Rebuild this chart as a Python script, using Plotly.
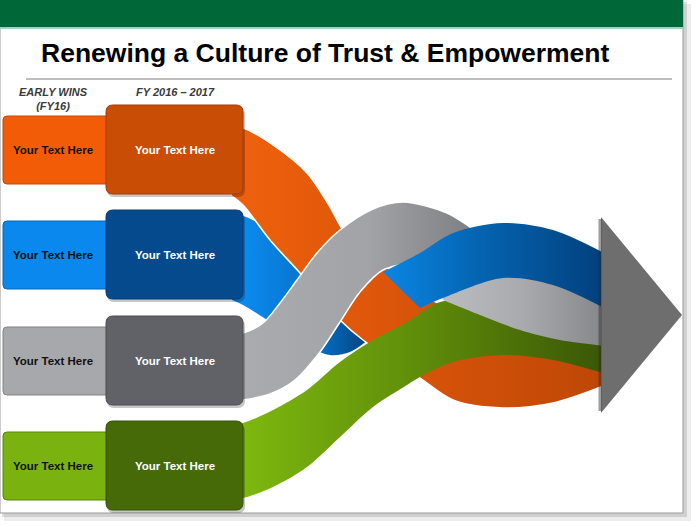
import plotly.graph_objects as go

W, H = 697, 526

title = "Renewing a Culture of Trust & Empowerment"
stage_labels = ["EARLY WINS<br>(FY16)", "FY 2016 – 2017"]
stage_x = [53, 175]
stage_y = [99, 92]

row_y = [150, 255, 361, 466]
early_text = ["Your Text Here"] * 4
fy_text = ["Your Text Here"] * 4
early_colors = ["#F35C06", "#0A88EE", "#A7A8AC", "#7AB30F"]
early_lines = ["#C04A05", "#0766B2", "#808185", "#5B8609"]
fy_colors = ["#CA4D05", "#064A8E", "#616267", "#476A09"]
fy_lines = ["#A33D03", "#043A70", "#4C4D51", "#34500A"]

# ribbon edges (top edge / bottom edge)
blue_a_top_x = [232, 243, 280, 320, 355, 368]
blue_a_top_y = [216, 216, 236, 266, 290, 298]
blue_a_bot_x = [232, 243, 275, 305, 330, 350, 368]
blue_a_bot_y = [300, 305, 325, 345, 355, 352, 340]

orange_top_x = [232, 243, 273, 307, 330, 345, 380, 420, 470, 530, 606]
orange_top_y = [127, 128, 145, 173, 207, 233, 262, 292, 320, 335, 345]
orange_bot_x = [232, 243, 270, 300, 340, 363, 390, 420, 453, 503, 553, 606]
orange_bot_y = [196, 205, 240, 273, 320, 340, 358, 378, 400, 408, 403, 385]

green_top_x = [232, 243, 273, 307, 340, 373, 407, 440, 480, 540, 606]
green_top_y = [424, 423, 410, 390, 362, 340, 322, 302, 300, 315, 335]
green_bot_x = [232, 243, 273, 307, 340, 373, 407, 420, 453, 503, 553, 606]
green_bot_y = [499, 498, 487, 467, 437, 407, 385, 377, 362, 355, 360, 374]

gray_l_top_x = [232, 243, 263, 280, 297, 317, 340, 373, 403, 447, 470, 495]
gray_l_top_y = [334, 333, 323, 303, 280, 253, 230, 209, 202, 213, 227, 243]
gray_l_bot_x = [232, 243, 270, 295, 320, 340, 360, 383, 420, 460, 495]
gray_l_bot_y = [401, 400, 394, 380, 352, 322, 292, 270, 262, 262, 268]

gray_r_top_x = [435, 480, 520, 560, 606]
gray_r_top_y = [262, 258, 258, 270, 282]
gray_r_bot_x = [443, 480, 520, 560, 606]
gray_r_bot_y = [300, 315, 330, 340, 346]

blue_b_top_x = [383, 420, 453, 503, 553, 606]
blue_b_top_y = [272, 253, 233, 223, 230, 254]
blue_b_bot_x = [420, 443, 503, 553, 606]
blue_b_bot_y = [308, 298, 278, 285, 309]


def rrect(x0, y0, x1, y1, r):
    return (f"M{x0+r},{y0} L{x1-r},{y0} Q{x1},{y0} {x1},{y0+r} L{x1},{y1-r} "
            f"Q{x1},{y1} {x1-r},{y1} L{x0+r},{y1} Q{x0},{y1} {x0},{y1-r} "
            f"L{x0},{y0+r} Q{x0},{y0} {x0+r},{y0} Z")


def ribbon(tx, ty, bx, by, scale, x0, x1, edge_w=0):
    edge = dict(color="white", width=edge_w, shape="spline", smoothing=0.9)
    top = go.Scatter(x=tx, y=ty, mode="lines", line=edge, hoverinfo="skip")
    bot = go.Scatter(x=bx, y=by, mode="lines", line=edge, fill="tonexty",
                     fillgradient=dict(type="horizontal", colorscale=scale,
                                       start=x0, stop=x1),
                     hoverinfo="skip")
    return [top, bot]


traces = []
traces += ribbon(blue_a_top_x, blue_a_top_y, blue_a_bot_x, blue_a_bot_y,
                 [[0, "#0C8AEE"], [0.6, "#0570C8"], [1, "#02447F"]], 243, 368)
traces += ribbon(orange_top_x, orange_top_y, orange_bot_x, orange_bot_y,
                 [[0, "#EE600C"], [0.45, "#D9540A"], [1, "#BD4706"]], 243, 606, 1.5)
traces += ribbon(green_top_x, green_top_y, green_bot_x, green_bot_y,
                 [[0, "#7DB80E"], [0.5, "#5E8B0A"], [1, "#3A5606"]], 243, 606)
traces += ribbon(gray_l_top_x, gray_l_top_y, gray_l_bot_x, gray_l_bot_y,
                 [[0, "#AAABAF"], [0.5, "#A2A3A7"], [1, "#76777B"]], 243, 495, 1.5)
traces += ribbon(gray_r_top_x, gray_r_top_y, gray_r_bot_x, gray_r_bot_y,
                 [[0, "#BCBDC0"], [0.5, "#A9AAAD"], [1, "#85868A"]], 440, 606)
traces += ribbon(blue_b_top_x, blue_b_top_y, blue_b_bot_x, blue_b_bot_y,
                 [[0, "#0A86E4"], [0.4, "#0566B4"], [1, "#023F7C"]], 383, 606)

fig = go.Figure(data=traces)

shapes = []
# slide shadow, slide and header
shapes.append(dict(type="rect", x0=4, y0=4, x1=691, y1=521, layer="below",
                   fillcolor="rgba(0,0,0,0.07)", line_width=0))
shapes.append(dict(type="rect", x0=2, y0=2, x1=687, y1=517, layer="below",
                   fillcolor="rgba(0,0,0,0.12)", line_width=0))
shapes.append(dict(type="rect", x0=0, y0=0, x1=683, y1=513, layer="below",
                   fillcolor="white", line=dict(color="#9A9A9A", width=1)))
shapes.append(dict(type="rect", x0=0, y0=0, x1=683, y1=27, layer="below",
                   fillcolor="#006838", line_width=0))
shapes.append(dict(type="rect", x0=0, y0=27, x1=683, y1=29, layer="below",
                   fillcolor="#A9CDBE", line_width=0))
shapes.append(dict(type="line", x0=26, y0=79, x1=672, y1=79, layer="below",
                   line=dict(color="#A8A8A8", width=1.5)))

# arrow head
shapes.append(dict(type="path", path="M601,217 L682,315 L601,413 Z", layer="above",
                   fillcolor="#6E6E6E", line_width=0))
shapes.append(dict(type="line", x0=600, y0=219, x1=600, y1=411, layer="above",
                   line=dict(color="rgba(40,40,40,0.45)", width=3)))

# boxes
for i, cy in enumerate(row_y):
    shapes.append(dict(type="path", path=rrect(3, cy - 34, 114, cy + 34, 4), layer="above",
                       fillcolor=early_colors[i], line=dict(color=early_lines[i], width=1)))
    shapes.append(dict(type="path", path=rrect(107, cy - 42, 245, cy + 47, 7), layer="above",
                       fillcolor="rgba(0,0,0,0.22)", line_width=0))
    shapes.append(dict(type="path", path=rrect(106, cy - 45, 243, cy + 44, 7), layer="above",
                       fillcolor=fy_colors[i], line=dict(color=fy_lines[i], width=1)))

annotations = [dict(x=325, y=53, text=f"<b>{title}</b>", showarrow=False,
                    font=dict(family="Liberation Sans, Arial", size=26.5, color="black"))]
for sx, sy, lab in zip(stage_x, stage_y, stage_labels):
    annotations.append(dict(x=sx, y=sy, text=f"<b><i>{lab}</i></b>", showarrow=False,
                            font=dict(family="Liberation Sans, Arial", size=11, color="#3A3A3A")))
for i, cy in enumerate(row_y):
    annotations.append(dict(x=53, y=cy, text=f"<b>{early_text[i]}</b>", showarrow=False,
                            font=dict(family="Liberation Sans, Arial", size=11.5, color="#111111")))
    annotations.append(dict(x=175, y=cy, text=f"<b>{fy_text[i]}</b>", showarrow=False,
                            font=dict(family="Liberation Sans, Arial", size=11.5, color="white")))

fig.update_layout(
    width=W, height=H,
    margin=dict(l=0, r=0, t=0, b=0),
    paper_bgcolor="white",
    plot_bgcolor="rgba(0,0,0,0)",
    showlegend=False,
    shapes=shapes,
    annotations=annotations,
    xaxis=dict(range=[0, W], visible=False, fixedrange=True),
    yaxis=dict(range=[H, 0], visible=False, fixedrange=True),
)

fig.write_html("out.html", config={"displayModeBar": False},
               post_script="document.body.style.margin='0';")
